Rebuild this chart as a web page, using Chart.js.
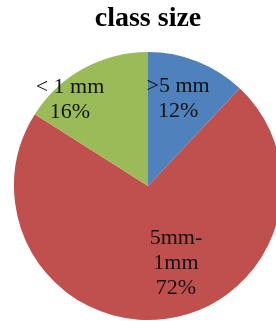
<!DOCTYPE html>
<html>
<head>
<meta charset="utf-8">
<script src="https://cdn.jsdelivr.net/npm/chart.js@4/dist/chart.umd.min.js"></script>
<style>
  html, body { margin: 0; padding: 0; background: #fff; overflow: hidden; }
  #wrap { width: 276px; height: 321px; overflow: hidden; }
</style>
</head>
<body>
<div id="wrap">
  <canvas id="pie" width="296" height="321"></canvas>
</div>
<script>
const categories = [">5 mm", "5mm-\n1mm", "< 1 mm"];
const shares = [12, 72, 16];
const colors = ["#4F81BD", "#C0504D", "#9BBB59"];

// where each label sits: fraction of radius, angle shift in degrees
const labelSpots = [
  { r: 0.69, da: -2.6 },
  { r: 0.61, da: -12.8 },
  { r: 0.87, da: -13.2 }
];

const sliceLabels = {
  id: "sliceLabels",
  afterDatasetsDraw(chart) {
    const ctx = chart.ctx;
    const arcs = chart.getDatasetMeta(0).data;
    ctx.save();
    ctx.font = "22px 'Liberation Serif', 'Times New Roman', serif";
    ctx.fillStyle = "#111";
    ctx.textAlign = "center";
    ctx.textBaseline = "middle";
    arcs.forEach((arc, i) => {
      const p = arc.getProps(["x", "y", "startAngle", "endAngle", "outerRadius"], true);
      const spot = labelSpots[i];
      const a = (p.startAngle + p.endAngle) / 2 + spot.da * Math.PI / 180;
      const cx = p.x + Math.cos(a) * p.outerRadius * spot.r;
      const cy = p.y + Math.sin(a) * p.outerRadius * spot.r;
      const lines = categories[i].split("\n").concat([shares[i] + "%"]);
      const lh = 25;
      lines.forEach((t, k) => {
        ctx.fillText(t, cx, cy + (k - (lines.length - 1) / 2) * lh);
      });
    });
    ctx.restore();
  }
};

new Chart(document.getElementById("pie"), {
  type: "pie",
  data: {
    labels: categories,
    datasets: [{
      data: shares,
      backgroundColor: colors,
      borderWidth: 0
    }]
  },
  options: {
    responsive: false,
    animation: false,
    layout: { padding: { top: 0, bottom: 1, left: 0, right: 0 } },
    plugins: {
      legend: { display: false },
      tooltip: { enabled: false },
      title: {
        display: true,
        text: "class size",
        color: "#000",
        font: { family: "'Liberation Serif', 'Times New Roman', serif", size: 28, weight: "bold" },
        padding: { top: 2.2, bottom: 16.2 }
      }
    }
  },
  plugins: [sliceLabels]
});
</script>
</body>
</html>
